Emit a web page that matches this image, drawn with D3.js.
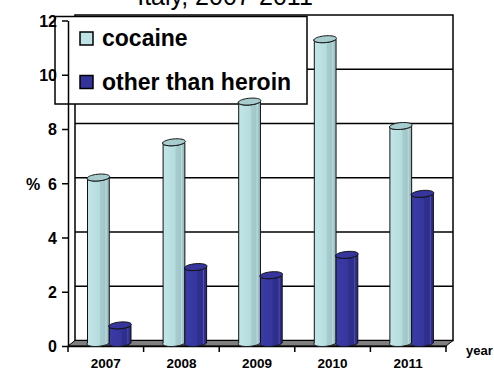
<!DOCTYPE html>
<html>
<head>
<meta charset="utf-8">
<script src="https://cdn.jsdelivr.net/npm/d3@7"></script>
<style>
  html, body { margin: 0; padding: 0; background: #fff; }
  svg { display: block; font-family: "Liberation Sans", Arial, sans-serif; }
</style>
</head>
<body>
<svg id="chart" width="494" height="372"></svg>
<script>
// Data
const years = ["2007", "2008", "2009", "2010", "2011"];
const seriesNames = ["cocaine", "other than heroin"];
const cocaine = [6.1, 7.4, 8.9, 11.2, 8.0];
const otherThanHeroin = [0.65, 2.8, 2.5, 3.25, 5.5];
const yTicks = [0, 2, 4, 6, 8, 10, 12];
const titleText = "Italy, 2007-2011";

const svg = d3.select("#chart");

// 3D depth offset of the back wall
const dx = 7, dy = 5.5;

const y = d3.scaleLinear().domain([0, 12]).range([346, 20.5]);
const x = d3.scaleBand().domain(years).range([68, 446]).padding(0);
const xs = d3.scaleBand().domain(seriesNames).range([19.5, 63]).padding(0);

const fills = {
  "cocaine": { top: "#a8cdcf", swatch: "#bfe3e5",
    stops: [[0, "#c3e7e9"], [0.55, "#b6dcde"], [0.6, "#a7cccf"], [0.8, "#a2c6c8"], [0.85, "#badcde"], [0.9, "#a0c4c6"], [1, "#98bcbe"]] },
  "other than heroin": { top: "#35359d", swatch: "#333399",
    stops: [[0, "#3b3ba8"], [0.55, "#36369e"], [0.6, "#2f2f8e"], [0.82, "#2d2d8a"], [0.86, "#5252b2"], [0.9, "#2d2d8a"], [1, "#28287e"]] }
};

// Gradients for the cylinder bodies
const defs = svg.append("defs");
seriesNames.forEach((s, i) => {
  const g = defs.append("linearGradient").attr("id", "grad" + i)
    .attr("x1", "0").attr("x2", "1").attr("y1", "0").attr("y2", "0");
  fills[s].stops.forEach(([o, c]) => g.append("stop").attr("offset", o).attr("stop-color", c));
});

// Title (only its lower part fits in the frame)
svg.append("text").attr("x", 225).attr("y", 5).attr("text-anchor", "middle")
  .attr("font-size", 25).attr("fill", "#000").text(titleText);

// Back wall
const xL = x.range()[0], xR = x.range()[1];
svg.append("rect")
  .attr("x", xL + dx).attr("y", y(12) - dy)
  .attr("width", xR - xL).attr("height", y(0) - y(12))
  .attr("fill", "#fff").attr("stroke", "#000").attr("stroke-width", 1.5);

// Gridlines on the back wall
svg.append("g").selectAll("line").data(yTicks.filter(v => v > 0 && v < 12)).join("line")
  .attr("x1", xL + dx).attr("x2", xR + dx)
  .attr("y1", d => y(d) - dy).attr("y2", d => y(d) - dy)
  .attr("stroke", "#000").attr("stroke-width", 1.5);

// Legend box
const legend = svg.append("g");
legend.append("rect").attr("x", 55).attr("y", 16.5).attr("width", 252).attr("height", 87.5)
  .attr("fill", "#fff").attr("stroke", "#000").attr("stroke-width", 1.5);
seriesNames.forEach((s, i) => {
  legend.append("rect").attr("x", 80).attr("y", 32 + i * 43.5).attr("width", 13).attr("height", 13)
    .attr("fill", fills[s].swatch).attr("stroke", "#000").attr("stroke-width", 1.5);
  legend.append("text").attr("x", 102).attr("y", 46 + i * 44)
    .attr("font-size", 23).attr("font-weight", "bold").attr("fill", "#000").text(s);
});

// Floor
svg.append("path")
  .attr("d", `M${xL},${y(0)} L${xR},${y(0)} L${xR + dx},${y(0) - dy} L${xL + dx},${y(0) - dy} Z`)
  .attr("fill", "#7f7f7f").attr("stroke", "#000").attr("stroke-width", 1);

// Y axis
const yAxis = svg.append("g").attr("transform", `translate(${xL},0)`)
  .call(d3.axisLeft(y).tickValues(yTicks).tickSize(6).tickSizeOuter(0).tickPadding(5));
yAxis.select(".domain").attr("stroke", "#000").attr("stroke-width", 1.5);
yAxis.selectAll(".tick line").attr("stroke", "#000").attr("stroke-width", 1.5);
yAxis.selectAll(".tick text").attr("font-size", 16).attr("font-weight", "bold")
  .attr("font-family", "Liberation Sans, Arial, sans-serif").attr("fill", "#000").attr("dy", "0.36em");

// X axis: line, boundary ticks and category labels
const xAxis = svg.append("g").attr("transform", `translate(0,${y(0)})`)
  .call(d3.axisBottom(x).tickSize(0).tickPadding(12));
xAxis.select(".domain").attr("stroke", "#000").attr("stroke-width", 1.5);
xAxis.selectAll(".tick text").attr("font-size", 13.5).attr("font-weight", "bold")
  .attr("font-family", "Liberation Sans, Arial, sans-serif").attr("fill", "#000");
const edges = years.map(d => x(d)).concat([xR]);
svg.append("g").selectAll("line").data(edges).join("line")
  .attr("x1", d => d).attr("x2", d => d).attr("y1", y(0)).attr("y2", y(0) + 6)
  .attr("stroke", "#000").attr("stroke-width", 1.5);

// Axis titles
svg.append("text").attr("x", 33).attr("y", 190).attr("text-anchor", "middle")
  .attr("font-size", 16).attr("font-weight", "bold").attr("fill", "#000").text("%");
svg.append("text").attr("x", 466).attr("y", 355)
  .attr("font-size", 13).attr("font-weight", "bold").attr("fill", "#000").text("year");

// Cylinder bars
const ex = 3, ey = 3.5;
function ellipsePts(xc, yc, r, t0, t1, n) {
  const pts = [];
  for (let k = 0; k <= n; k++) {
    const t = t0 + (t1 - t0) * k / n;
    pts.push([xc + r * Math.cos(t) - ex * Math.sin(t), yc + ey * Math.sin(t)]);
  }
  return pts;
}
const line = d3.line();
const rows = [];
years.forEach((yr, i) => {
  rows.push({ year: yr, s: seriesNames[0], si: 0, v: cocaine[i] });
  rows.push({ year: yr, s: seriesNames[1], si: 1, v: otherThanHeroin[i] });
});
const bars = svg.append("g").selectAll("g").data(rows).join("g");
bars.each(function (d) {
  const g = d3.select(this);
  const w = xs.bandwidth();
  const r = w / 2;
  const xc = x(d.year) + xs(d.s) + r;
  const yTop = y(d.v) - 3;
  const yBot = y(0) - 3;
  // body: left side down, bottom front arc, right side up, top front arc back
  const bottomFront = ellipsePts(xc, yBot, r, Math.PI, 0, 24);
  const topFront = ellipsePts(xc, yTop, r, 0, Math.PI, 24);
  const body = [[xc - r, yTop]].concat(bottomFront).concat(topFront);
  g.append("path").attr("d", line(body) + "Z")
    .attr("fill", `url(#grad${d.si})`).attr("stroke", "#111").attr("stroke-width", 1);
  const top = ellipsePts(xc, yTop, r, 0, 2 * Math.PI, 48);
  g.append("path").attr("d", line(top) + "Z")
    .attr("fill", fills[d.s].top).attr("stroke", "#111").attr("stroke-width", 1);
});
</script>
</body>
</html>
